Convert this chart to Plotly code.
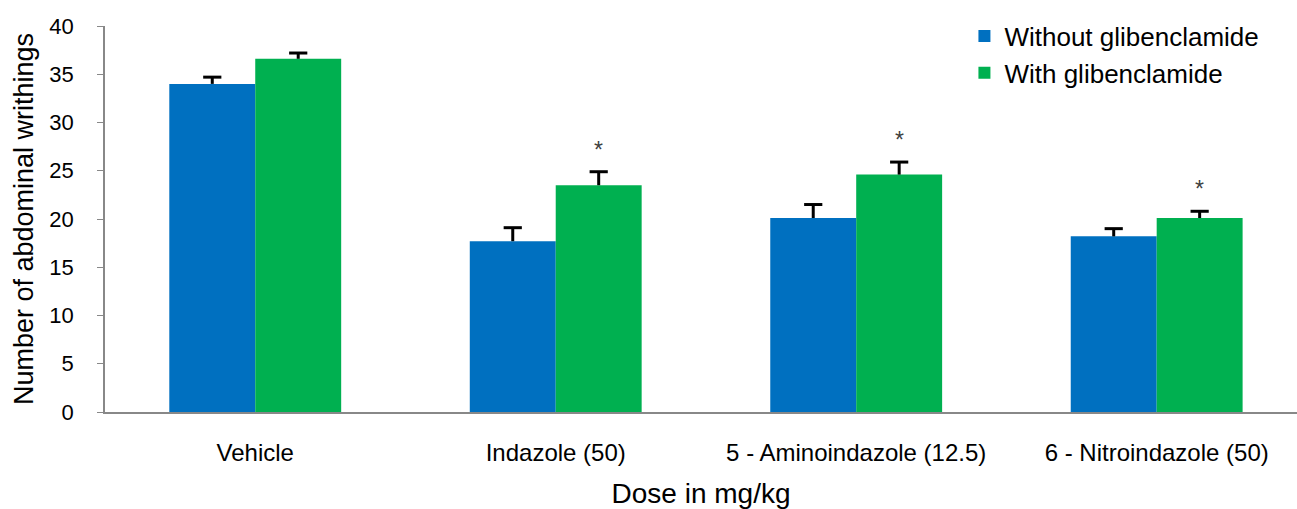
import plotly.graph_objects as go

categories = ["Vehicle", "Indazole (50)", "5 - Aminoindazole (12.5)", "6 - Nitroindazole (50)"]
without_glib = [34.0, 17.7, 20.1, 18.2]
without_err = [0.7, 1.4, 1.4, 0.8]
with_glib = [36.6, 23.5, 24.6, 20.1]
with_err = [0.6, 1.4, 1.3, 0.7]
significant = [False, True, True, True]

BLUE = "#0070C0"
GREEN = "#00B050"
FONT = "Liberation Sans, Arial, sans-serif"
BAR_W = 0.286
pos = list(range(len(categories)))

fig = go.Figure()
series = [
    ("Without glibenclamide", without_glib, without_err, BLUE, -BAR_W),
    ("With glibenclamide", with_glib, with_err, GREEN, 0.0),
]
for name, vals, errs, col, off in series:
    fig.add_trace(go.Bar(
        name=name, x=pos, y=vals, width=BAR_W, offset=off,
        marker=dict(color=col, line=dict(width=0)), legendgroup=name,
    ))
for name, vals, errs, col, off in series:
    xc = [p + off + BAR_W / 2 for p in pos]
    fig.add_trace(go.Scatter(
        x=xc, y=[v + e for v, e in zip(vals, errs)], mode="markers",
        marker=dict(symbol="line-ew", size=13, line=dict(width=3, color="black"), color="black"),
        error_y=dict(type="data", symmetric=False, array=[0] * len(vals), arrayminus=errs,
                     width=0, thickness=3, color="black"),
        showlegend=False, hoverinfo="skip",
    ))

for p, v, e, s in zip(pos, with_glib, with_err, significant):
    if s:
        fig.add_annotation(x=p + BAR_W / 2, y=v + e, yshift=7, text="*", showarrow=False,
                           yanchor="bottom", font=dict(size=23, color="#404040", family=FONT))

fig.update_layout(
    width=1297, height=509,
    margin=dict(l=105, r=0, t=26, b=97),
    paper_bgcolor="white", plot_bgcolor="white",
    font=dict(family=FONT, size=22, color="black"),
    barmode="overlay",
    legend=dict(x=0.721, y=1.035, xanchor="left", yanchor="top",
                font=dict(size=26), tracegroupgap=0,
                bgcolor="rgba(0,0,0,0)"),
    showlegend=True,
)
fig.update_xaxes(
    range=[-0.5, 3.467], tickvals=pos, ticktext=categories,
    showline=True, linecolor="#888888", linewidth=1.5, automargin=False,
    ticks="", showgrid=False, zeroline=False, ticklabelstandoff=18,
    title=dict(text="Dose in mg/kg", standoff=20, font=dict(size=28)),
    tickfont=dict(size=24),
)
fig.update_yaxes(
    range=[0, 40], dtick=5, showline=True, linecolor="#888888", linewidth=1.5,
    ticks="outside", ticklen=6, tickcolor="#888888", showgrid=False, automargin=False,
    ticklabelstandoff=19, zeroline=False,
    title=dict(text="Number of abdominal writhings", standoff=8, font=dict(size=27)),
    tickfont=dict(size=22),
)

fig.write_html("out.html", config={"displayModeBar": False},
               post_script="document.body.style.margin='0';")
